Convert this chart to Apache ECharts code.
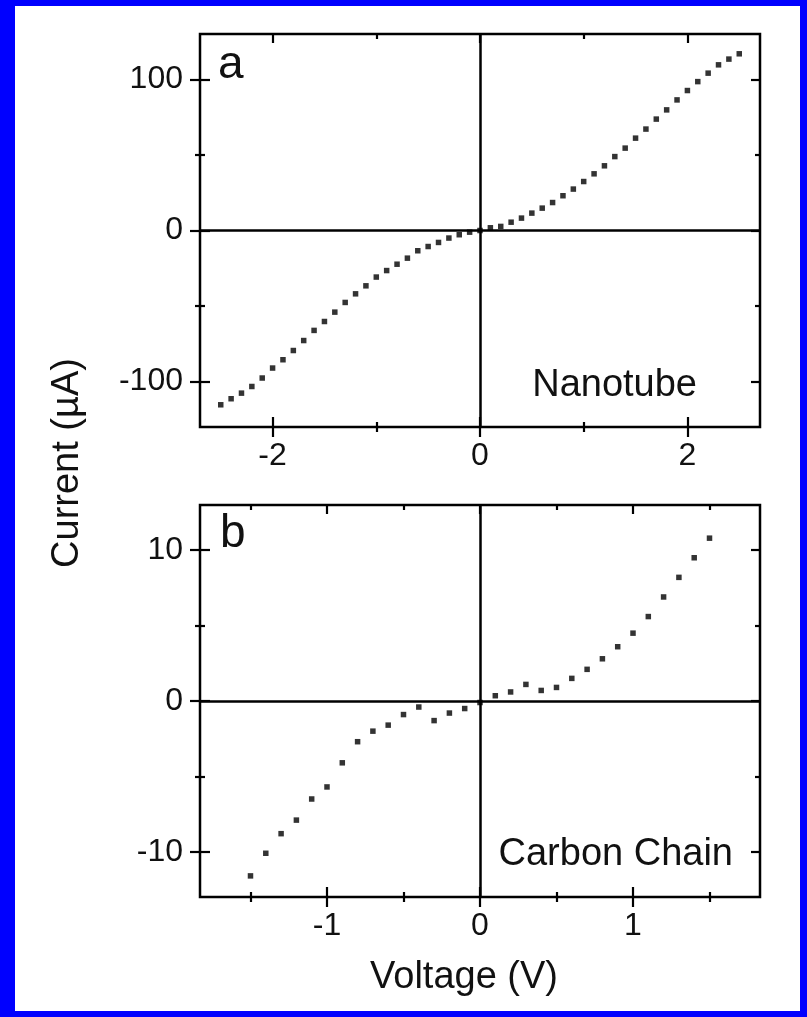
<!DOCTYPE html>
<html>
<head>
<meta charset="utf-8">
<title>I-V characteristics</title>
<script src="https://cdn.jsdelivr.net/npm/echarts@6/dist/echarts.min.js"></script>
<style>
  html, body { margin: 0; padding: 0; background: #0000ff; width: 807px; height: 1017px; overflow: hidden; }
  #chart { position: absolute; left: 15px; top: 6px; width: 785px; height: 1005px; background: #ffffff; }
</style>
</head>
<body>
<div id="chart"></div>
<script>
// Panel a: nanotube I-V sweep
const voltageA = [-2.5, -2.4, -2.3, -2.2, -2.1, -2.0, -1.9, -1.8, -1.7, -1.6, -1.5, -1.4, -1.3, -1.2, -1.1,
  -1.0, -0.9, -0.8, -0.7, -0.6, -0.5, -0.4, -0.3, -0.2, -0.1, 0.0, 0.1, 0.2, 0.3, 0.4, 0.5, 0.6, 0.7, 0.8,
  0.9, 1.0, 1.1, 1.2, 1.3, 1.4, 1.5, 1.6, 1.7, 1.8, 1.9, 2.0, 2.1, 2.2, 2.3, 2.4, 2.5];
const currentA = [-115.3, -111.3, -107.6, -103.2, -97.6, -91.0, -85.5, -79.4, -72.8, -66.1, -60.2, -54.0,
  -47.6, -41.9, -36.6, -30.8, -26.5, -22.3, -18.3, -13.4, -10.6, -7.9, -5.0, -2.8, -1.1, 0.0, 1.8, 2.7,
  5.5, 8.2, 11.5, 14.8, 18.5, 23.0, 27.4, 32.4, 37.5, 42.8, 48.9, 54.5, 61.1, 67.1, 73.7, 79.8, 86.4,
  92.6, 98.5, 104.1, 109.6, 113.4, 116.9];

// Panel b: carbon chain I-V sweep
const voltageB = [-1.5, -1.4, -1.3, -1.2, -1.1, -1.0, -0.9, -0.8, -0.7, -0.6, -0.5, -0.4, -0.3, -0.2, -0.1,
  0.0, 0.1, 0.2, 0.3, 0.4, 0.5, 0.6, 0.7, 0.8, 0.9, 1.0, 1.1, 1.2, 1.3, 1.4, 1.5];
const currentB = [-11.6, -10.1, -8.8, -7.9, -6.5, -5.7, -4.1, -2.7, -2.0, -1.6, -0.9, -0.4, -1.3, -0.8,
  -0.5, -0.1, 0.35, 0.6, 1.1, 0.7, 0.9, 1.5, 2.1, 2.8, 3.6, 4.5, 5.6, 6.9, 8.2, 9.5, 10.8];

// Tick positions
const xTicksA = [-2, 0, 2];
const xMinorA = [-1, 1];
const yTicksA = [-100, 0, 100];
const yMinorA = [-50, 50];
const xTicksB = [-1, 0, 1];
const xMinorB = [-1.5, -0.5, 0.5, 1.5];
const yTicksB = [-10, 0, 10];
const yMinorB = [-5, 5];

const FONT = "'Liberation Sans', Arial, Helvetica, sans-serif";
const INK = '#000000';

const grids = [
  { left: 185, top: 28, width: 560, height: 393 },
  { left: 185, top: 499, width: 560, height: 392 }
].map(g => Object.assign(g, {
  show: true, borderColor: INK, borderWidth: 2.5, backgroundColor: 'transparent', containLabel: false
}));

// One axis layer: a set of ticks drawn on one side of a panel
function axisLayer(gridIndex, position, min, max, ticks, length, inside, withLabels) {
  return {
    type: 'value', gridIndex, position, min, max,
    axisLine: { show: false, onZero: false },
    splitLine: { show: false },
    axisTick: {
      show: true, inside, length, customValues: ticks,
      lineStyle: { color: INK, width: 2.2 }
    },
    axisLabel: withLabels ? {
      show: true, customValues: ticks, color: '#111111', fontFamily: FONT, fontSize: 32,
      margin: (position === 'left' || position === 'right') ? 17 : 13
    } : { show: false },
    z: 5
  };
}

// Crossing ticks on left/bottom, inward ticks on top/right
function xAxesFor(gi, min, max, major, minor) {
  return [
    axisLayer(gi, 'bottom', min, max, major, 10, false, true),
    axisLayer(gi, 'bottom', min, max, major, 10, true, false),
    axisLayer(gi, 'bottom', min, max, minor, 5, false, false),
    axisLayer(gi, 'bottom', min, max, minor, 5, true, false),
    axisLayer(gi, 'top', min, max, major, 9, true, false),
    axisLayer(gi, 'top', min, max, minor, 5, true, false)
  ];
}
function yAxesFor(gi, min, max, major, minor) {
  return [
    axisLayer(gi, 'left', min, max, major, 10, false, true),
    axisLayer(gi, 'left', min, max, major, 10, true, false),
    axisLayer(gi, 'left', min, max, minor, 5, false, false),
    axisLayer(gi, 'left', min, max, minor, 5, true, false),
    axisLayer(gi, 'right', min, max, major, 9, true, false),
    axisLayer(gi, 'right', min, max, minor, 5, true, false)
  ];
}

const xAxes = xAxesFor(0, -2.7, 2.7, xTicksA, xMinorA).concat(xAxesFor(1, -1.83, 1.83, xTicksB, xMinorB));
const yAxes = yAxesFor(0, -130, 130, yTicksA, yMinorA).concat(yAxesFor(1, -13, 13, yTicksB, yMinorB));

const zeroLines = {
  silent: true, symbol: ['none', 'none'], animation: false,
  label: { show: false },
  lineStyle: { color: INK, width: 2.5, type: 'solid' },
  emphasis: { disabled: true },
  data: [{ xAxis: 0 }, { yAxis: 0 }]
};

function pairs(xs, ys) { return xs.map((v, i) => [v, ys[i]]); }

const markerStyle = { color: '#000000' };

const option = {
  animation: false,
  backgroundColor: '#ffffff',
  grid: grids,
  xAxis: xAxes,
  yAxis: yAxes,
  series: [
    {
      name: 'Nanotube', type: 'scatter', xAxisIndex: 0, yAxisIndex: 0,
      symbol: 'rect', symbolSize: 5.5, itemStyle: markerStyle,
      data: pairs(voltageA, currentA), markLine: zeroLines, z: 10
    },
    {
      name: 'Carbon Chain', type: 'scatter', xAxisIndex: 6, yAxisIndex: 6,
      symbol: 'rect', symbolSize: 5.5, itemStyle: markerStyle,
      data: pairs(voltageB, currentB), markLine: zeroLines, z: 10
    }
  ],
  graphic: [
    { type: 'text', left: 203, top: 36, style: { text: 'a', fill: '#111111', font: '46px ' + FONT } },
    { type: 'text', left: 205, top: 505, style: { text: 'b', fill: '#111111', font: '46px ' + FONT } },
    { type: 'text', x: 682, y: 380, style: { text: 'Nanotube', fill: '#111111', font: '38px ' + FONT, textAlign: 'right', textVerticalAlign: 'middle' } },
    { type: 'text', x: 718, y: 849, style: { text: 'Carbon Chain', fill: '#111111', font: '38px ' + FONT, textAlign: 'right', textVerticalAlign: 'middle' } },
    { type: 'text', x: 53, y: 457, rotation: Math.PI / 2, style: { text: 'Current (µA)', fill: '#111111', font: '38px ' + FONT, textAlign: 'center', textVerticalAlign: 'middle' } },
    { type: 'text', x: 449, y: 972, style: { text: 'Voltage (V)', fill: '#111111', font: '38px ' + FONT, textAlign: 'center', textVerticalAlign: 'middle' } }
  ]
};

const chart = echarts.init(document.getElementById('chart'), null, { renderer: 'canvas' });
chart.setOption(option);
</script>
</body>
</html>
